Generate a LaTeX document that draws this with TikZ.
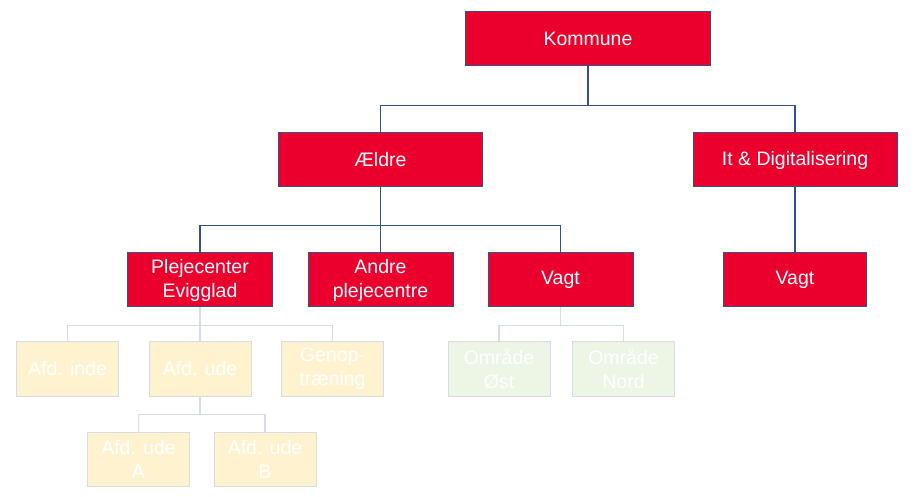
\documentclass[tikz,border=0pt]{standalone}
\usepackage{fontspec}
\setmainfont{Liberation Sans}
\usetikzlibrary{positioning}
\definecolor{orgred}{RGB}{235,0,45}
\definecolor{orgline}{RGB}{47,82,143}
\definecolor{fadeline}{RGB}{214,220,229}
\definecolor{fadeyellow}{RGB}{255,242,206}
\definecolor{fadegreen}{RGB}{237,245,228}

\begin{document}
\begin{tikzpicture}[x=1pt,y=-1pt,
        block/.style={draw=orgline,fill=orgred,text=white,line width=1pt,minimum height=54pt,
          inner sep=0pt,align=center,font=\fontsize{19.5}{24}\selectfont},
        pale/.style={block,draw=fadeline,fill=fadeyellow,minimum width=102pt},
        palegreen/.style={pale,fill=fadegreen},
        link/.style={draw=orgline,line width=1.2pt},
        palelink/.style={draw=fadeline,line width=1.2pt}]
   \useasboundingbox (0,0) rectangle (914,497);
   % top levels
   \node[block,minimum width=245pt] (K) at (588,39) {Kommune};
   \node[block,minimum width=204pt] (AE) at (380.5,160) {Ældre};
   \node[block,minimum width=204pt] (IT) at (795,160) {It \& Digitalisering};
   \node[block,minimum width=145pt] (PE) at (200,280) {Plejecenter\\Evigglad};
   \node[block,minimum width=145pt] (AP) at (380.5,280) {Andre\\plejecentre};
   \node[block,minimum width=145pt] (VA) at (560.5,280) {Vagt};
   \node[block,minimum width=143pt] (VB) at (795,280) {Vagt};
   % faded levels
   \node[pale] (AI) at (67.5,369) {Afd. inde};
   \node[pale] (AU) at (200,369) {Afd. ude};
   \node[pale] (GT) at (332.5,369) {Genop-\\træning};
   \node[pale] (UA) at (138.5,459) {Afd. ude\\A};
   \node[pale] (UB) at (265,459) {Afd. ude\\B};
   \node[palegreen] (OE) at (499,369) {Område\\Øst};
   \node[palegreen] (ON) at (623.5,369) {Område\\Nord};

   \draw[link] (K.south) -- ++(0,39) coordinate (k1);
   \draw[link] (AE.north) |- (k1) -| (IT.north);
   \draw[link] (AE.south) -- (AP.north);
   \draw[link] (PE.north) -- ++(0,-27) -| (VA.north);
   \draw[link] (IT.south) -- (VB.north);

   \draw[palelink] (PE.south) -- (AU.north);
   \draw[palelink] (AI.north) -- ++(0,-16) -| (GT.north);
   \draw[palelink] (AU.south) -- ++(0,18) coordinate (u1);
   \draw[palelink] (UA.north) |- (u1) -| (UB.north);
   \draw[palelink] (VA.south) -- ++(0,18) coordinate (v1);
   \draw[palelink] (OE.north) |- (v1) -| (ON.north);
\end{tikzpicture}
\end{document}
